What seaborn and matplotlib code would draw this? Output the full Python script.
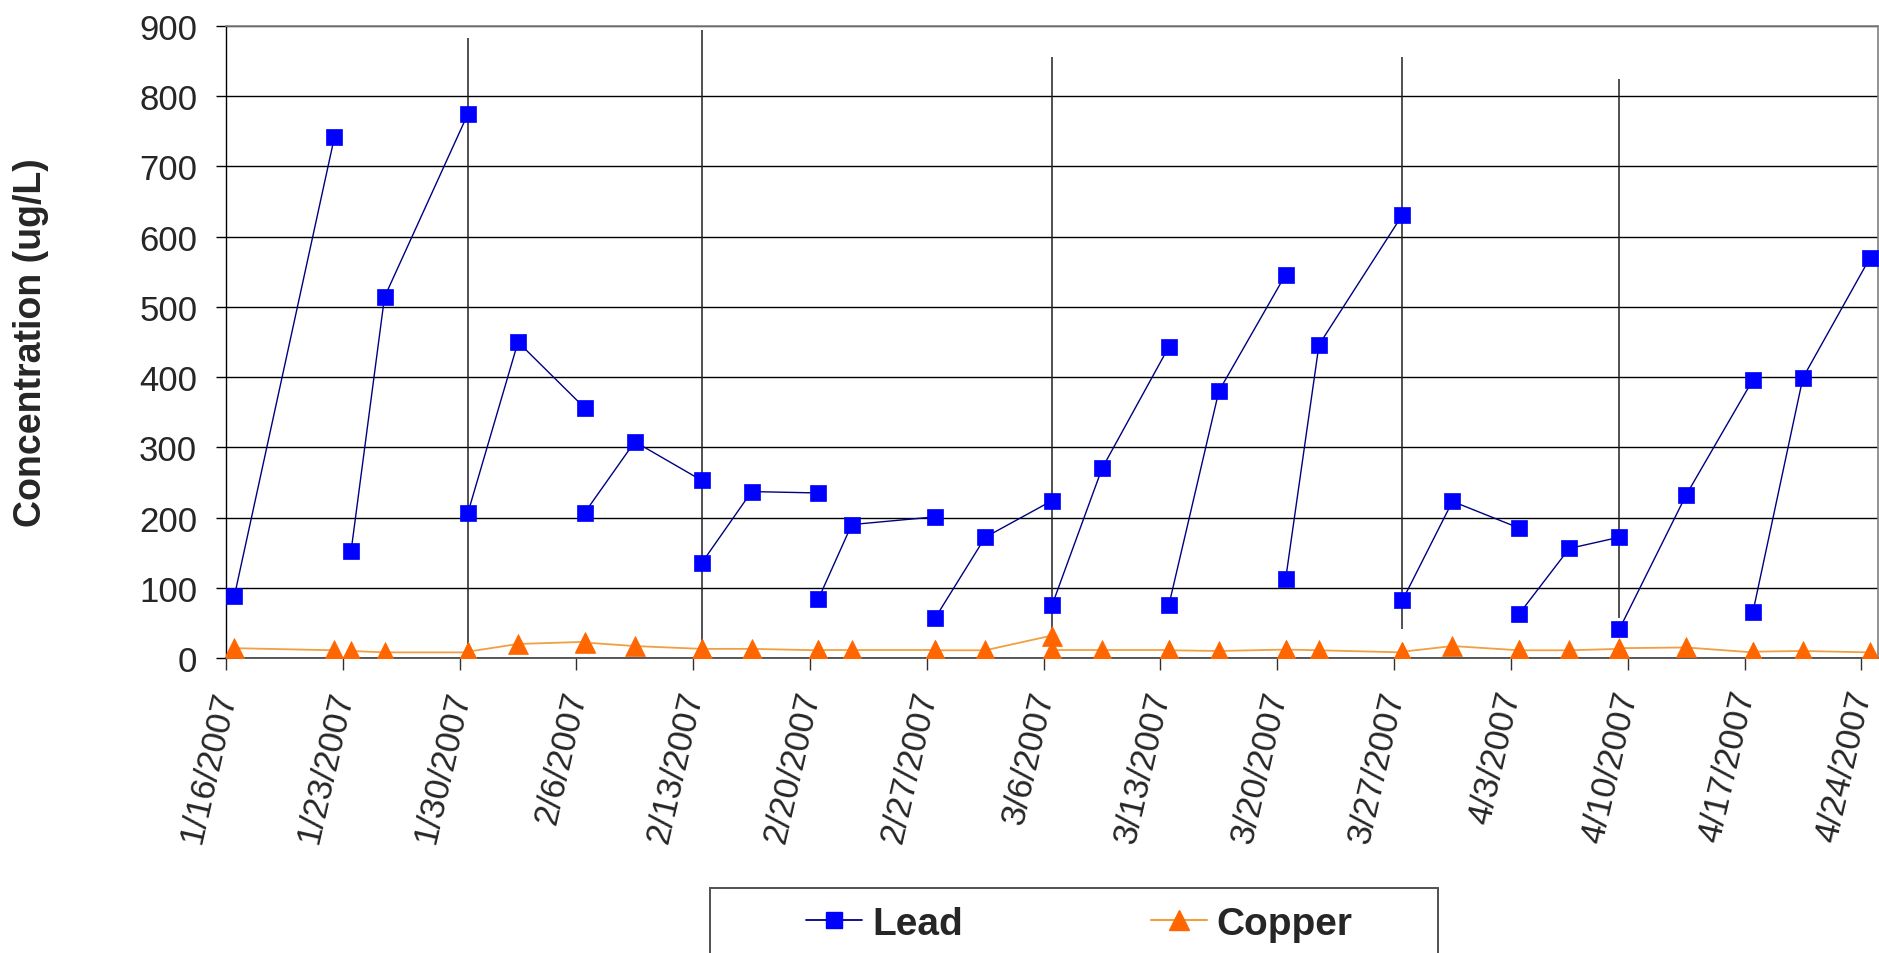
import matplotlib
matplotlib.use("Agg")
import matplotlib.pyplot as plt
import numpy as np
import pandas as pd
import seaborn as sns
from matplotlib.lines import Line2D
from matplotlib.patches import Rectangle

# Weekly sampling runs: each run starts after a flush and ends at the next visit
sample_dates = [
    "2007-01-16", "2007-01-22",
    "2007-01-23", "2007-01-25", "2007-01-30",
    "2007-01-30", "2007-02-02", "2007-02-06",
    "2007-02-06", "2007-02-09", "2007-02-13",
    "2007-02-13", "2007-02-16", "2007-02-20",
    "2007-02-20", "2007-02-22", "2007-02-27",
    "2007-02-27", "2007-03-02", "2007-03-06",
    "2007-03-06", "2007-03-09", "2007-03-13",
    "2007-03-13", "2007-03-16", "2007-03-20",
    "2007-03-20", "2007-03-22", "2007-03-27",
    "2007-03-27", "2007-03-30", "2007-04-03",
    "2007-04-03", "2007-04-06", "2007-04-09",
    "2007-04-09", "2007-04-13", "2007-04-17",
    "2007-04-17", "2007-04-20", "2007-04-24",
]
run_id = [
    1, 1,
    2, 2, 2,
    3, 3, 3,
    4, 4, 4,
    5, 5, 5,
    6, 6, 6,
    7, 7, 7,
    8, 8, 8,
    9, 9, 9,
    10, 10, 10,
    11, 11, 11,
    12, 12, 12,
    13, 13, 13,
    14, 14, 14,
]
lead_ugL = [
    88, 742,
    153, 514, 775,
    207, 450, 356,
    207, 308, 253,
    135, 237, 235,
    84, 190, 201,
    57, 172, 224,
    75, 270, 443,
    75, 380, 546,
    112, 446, 631,
    82, 223, 185,
    63, 156, 172,
    41, 232, 396,
    65, 399, 569,
]
copper_ugL = [
    14, 11,
    10, 8, 8,
    9, 20, 23,
    22, 17, 13,
    13, 13, 11,
    11, 11, 11,
    11, 11, 32,
    11, 11, 11,
    11, 10, 12,
    12, 11, 8,
    9, 17, 11,
    11, 11, 13,
    14, 15, 8,
    9, 10, 8,
]

# Reference markers drawn on selected sampling days
event_dates = ["2007-01-30", "2007-02-13", "2007-03-06", "2007-03-27", "2007-04-09"]
event_top = [883, 894, 856, 856, 825]
event_bottom = [0, 0, 0, 41, 57]

tick_labels = [
    "1/16/2007", "1/23/2007", "1/30/2007", "2/6/2007", "2/13/2007",
    "2/20/2007", "2/27/2007", "3/6/2007", "3/13/2007", "3/20/2007",
    "3/27/2007", "4/3/2007", "4/10/2007", "4/17/2007", "4/24/2007",
]
y_ticks = [0, 100, 200, 300, 400, 500, 600, 700, 800, 900]

sns.set_style("white")
plt.rcParams["font.family"] = ["Liberation Sans", "DejaVu Sans"]

W, H = 1879, 954
fig = plt.figure(figsize=(W / 100, H / 100), dpi=100)
ax = fig.add_axes([226 / W, (H - 659) / H, (1878 - 226) / W, (659 - 27) / H])

df = pd.DataFrame({"date": sample_dates, "run": run_id,
                   "Lead": lead_ugL, "Copper": copper_ugL})
# each day occupies a slot on the date axis; samples sit mid-slot
df["x"] = pd.to_datetime(df["date"]) + pd.Timedelta(hours=12)

lead_line = "#000080"
lead_mark = "#0000FF"
cu_line = "#F0A040"
cu_mark = "#FF6600"
sq_size = 11
tri_size = 14

# event markers
ev_x = pd.to_datetime(pd.Series(event_dates)) + pd.Timedelta(hours=12)
ax.vlines(ev_x, event_bottom, event_top, colors="#202020", linewidth=1.1, zorder=2)

sns.lineplot(data=df, x="x", y="Copper", units="run", estimator=None, ax=ax,
             color=cu_line, linewidth=1.3, marker="^", markersize=tri_size,
             markerfacecolor=cu_mark, markeredgecolor=cu_mark,
             markeredgewidth=0.5, legend=False, zorder=3)
sns.lineplot(data=df, x="x", y="Lead", units="run", estimator=None, ax=ax,
             color=lead_line, linewidth=1.0, marker="s", markersize=sq_size,
             markerfacecolor=lead_mark, markeredgecolor=lead_mark,
             markeredgewidth=0.5, legend=False, zorder=4)

tick_pos = pd.to_datetime(tick_labels, format="%m/%d/%Y")
ax.set_xlim(pd.Timestamp("2007-01-16"), pd.Timestamp("2007-04-25"))
ax.set_xticks(tick_pos)
ax.set_xticklabels(tick_labels, fontsize=25)
plt.setp(ax.get_xticklabels(), rotation=77, ha="right", va="center",
         rotation_mode="anchor")

ax.set_ylim(0, 900)
ax.set_yticks(y_ticks)
ax.set_yticklabels([str(v) for v in y_ticks], fontsize=25)

ax.yaxis.grid(True, color="black", linewidth=1.0)
ax.xaxis.grid(False)
ax.set_axisbelow(True)

ax.tick_params(axis="x", direction="out", length=8.6, width=1.0,
               color="#303030", pad=15, bottom=True)
ax.tick_params(axis="y", direction="out", length=7.2, width=1.0,
               color="black", pad=13.5, left=True)

for side in ["top", "right"]:
    ax.spines[side].set_color("#808080")
    ax.spines[side].set_linewidth(1.2)
ax.spines["left"].set_color("black")
ax.spines["left"].set_linewidth(1.0)
ax.spines["bottom"].set_color("#404040")
ax.spines["bottom"].set_linewidth(1.2)

ax.set_xlabel("")
ax.set_ylabel("Concentration (ug/L)", fontsize=27, fontweight="bold", va="center")
ax.yaxis.set_label_coords((31 - 226) / (1878 - 226), 0.5)

# legend below the chart
handles = [
    Line2D([], [], color=lead_line, linewidth=1.3, marker="s", markersize=sq_size,
           markerfacecolor=lead_mark, markeredgecolor=lead_mark),
    Line2D([], [], color=cu_line, linewidth=1.5, marker="^", markersize=tri_size,
           markerfacecolor=cu_mark, markeredgecolor=cu_mark),
]
fig.legend(handles, ["Lead", "Copper"], loc="center left",
           bbox_to_anchor=(806 / W, 1 - 925 / H), ncol=2, frameon=False,
           prop={"weight": "bold", "size": 28}, handlelength=1.44,
           handletextpad=0.26, columnspacing=4.83, borderpad=0,
           borderaxespad=0)
fig.add_artist(Rectangle((710 / W, -0.05), (1438 - 710) / W, (H - 889) / H + 0.05,
                         transform=fig.transFigure, fill=False,
                         edgecolor="#505050", linewidth=1.4))

fig.savefig("out.png", dpi=100, facecolor="white")
